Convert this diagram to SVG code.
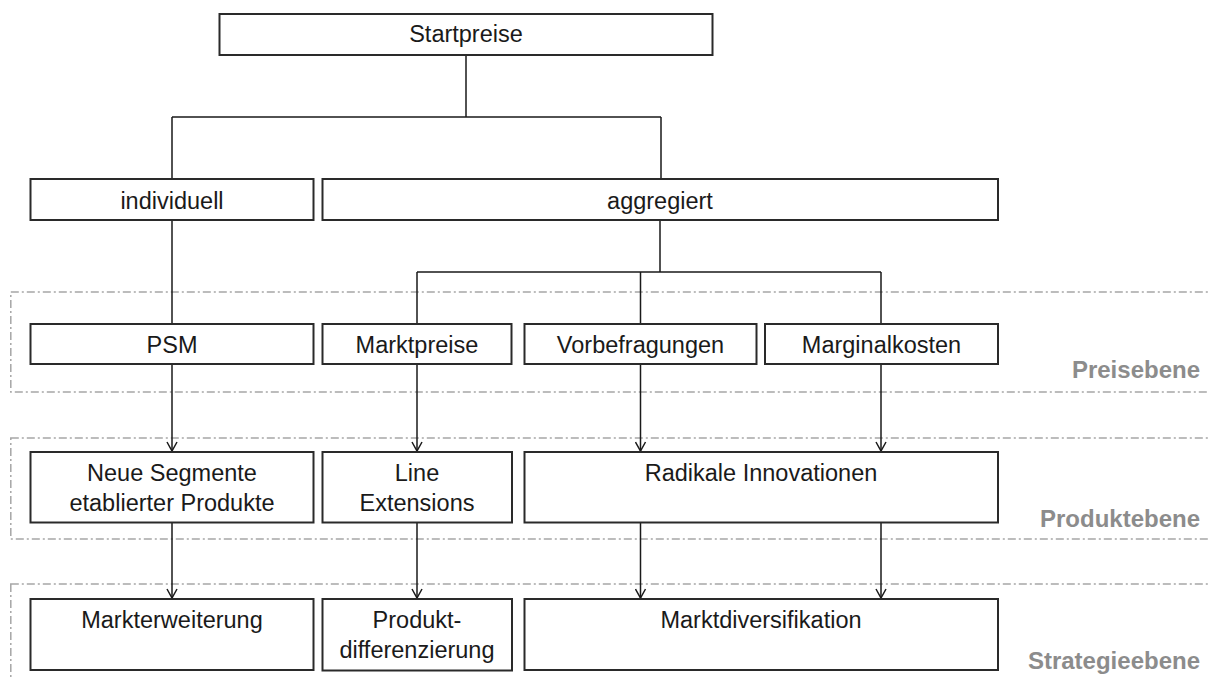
<svg xmlns="http://www.w3.org/2000/svg" width="1209" height="680" viewBox="0 0 1209 680">
<defs>
<style>
.box{fill:#fff;stroke:#2a2a2a;stroke-width:2}
.t{font-family:"Liberation Sans",Arial,sans-serif;font-size:23.5px;fill:#1a1a1a;text-anchor:middle}
.lvl{font-family:"Liberation Sans",Arial,sans-serif;font-size:24px;font-weight:bold;fill:#8c8c8c;text-anchor:end}
.zone{fill:none;stroke:#a6a6a6;stroke-width:1.5;stroke-dasharray:8 3 2 3}
.c{fill:none;stroke:#1a1a1a;stroke-width:1.5}
</style>
<marker id="arr" viewBox="0 0 12 12" refX="11" refY="6" markerWidth="12" markerHeight="12" markerUnits="userSpaceOnUse" orient="auto">
<path d="M2,1 L11,6 L2,11" fill="none" stroke="#1a1a1a" stroke-width="1.5"/>
</marker>
</defs>
<rect width="1209" height="680" fill="#fff"/>

<g id="zones">
<rect class="zone" x="10.8" y="292" width="1220" height="100"/>
<rect class="zone" x="10.8" y="438" width="1220" height="101"/>
<rect class="zone" x="10.8" y="584" width="1220" height="120"/>
</g>
<g id="level-labels">
<text class="lvl" x="1200" y="378">Preisebene</text>
<text class="lvl" x="1200" y="527">Produktebene</text>
<text class="lvl" x="1200" y="669">Strategieebene</text>
</g>

<g id="connectors">
<path class="c" d="M466,55 V117 M172,117 H661 M172,117 V179 M661,117 V179"/>
<path class="c" d="M172,220 V324"/>
<path class="c" d="M660,220 V272 M417,272 H881 M417,272 V324 M640.5,272 V324 M881,272 V324"/>
<path class="c" d="M172,364 V451" marker-end="url(#arr)"/>
<path class="c" d="M417,364 V451" marker-end="url(#arr)"/>
<path class="c" d="M640.5,364 V451" marker-end="url(#arr)"/>
<path class="c" d="M881,364 V451" marker-end="url(#arr)"/>
<path class="c" d="M172,522 V598" marker-end="url(#arr)"/>
<path class="c" d="M417,522 V598" marker-end="url(#arr)"/>
<path class="c" d="M640.5,522 V598" marker-end="url(#arr)"/>
<path class="c" d="M881,522 V598" marker-end="url(#arr)"/>
</g>

<g id="startpreise"><rect class="box" x="219.5" y="14" width="493" height="41"/><text class="t" x="466" y="42">Startpreise</text></g>
<g id="individuell"><rect class="box" x="30.5" y="179" width="283" height="41"/><text class="t" x="172" y="208.5">individuell</text></g>
<g id="aggregiert"><rect class="box" x="322.5" y="179" width="675.5" height="41"/><text class="t" x="660" y="208.5">aggregiert</text></g>

<g id="psm"><rect class="box" x="30.5" y="324" width="283" height="40"/><text class="t" x="172" y="352.5">PSM</text></g>
<g id="marktpreise"><rect class="box" x="322.5" y="324" width="189" height="40"/><text class="t" x="417" y="352.5">Marktpreise</text></g>
<g id="vorbefragungen"><rect class="box" x="524.5" y="324" width="232" height="40"/><text class="t" x="640.5" y="352.5">Vorbefragungen</text></g>
<g id="marginalkosten"><rect class="box" x="765" y="324" width="233" height="40"/><text class="t" x="881.5" y="352.5">Marginalkosten</text></g>

<g id="neue-segmente"><rect class="box" x="30.5" y="452" width="283" height="70.5"/><text class="t" x="172" y="481">Neue Segmente</text><text class="t" x="172" y="510.5">etablierter Produkte</text></g>
<g id="line-extensions"><rect class="box" x="322.5" y="452" width="189.5" height="70.5"/><text class="t" x="417" y="481">Line</text><text class="t" x="417" y="510.5">Extensions</text></g>
<g id="radikale-innovationen"><rect class="box" x="524.5" y="452" width="473.5" height="70.5"/><text class="t" x="761" y="481">Radikale Innovationen</text></g>

<g id="markterweiterung"><rect class="box" x="30.5" y="599" width="283" height="71"/><text class="t" x="172" y="628">Markterweiterung</text></g>
<g id="produktdifferenzierung"><rect class="box" x="322.5" y="599" width="189.5" height="71.5"/><text class="t" x="417" y="628">Produkt-</text><text class="t" x="417" y="658">differenzierung</text></g>
<g id="marktdiversifikation"><rect class="box" x="524.5" y="599" width="473.5" height="71"/><text class="t" x="761" y="628">Marktdiversifikation</text></g>
</svg>
